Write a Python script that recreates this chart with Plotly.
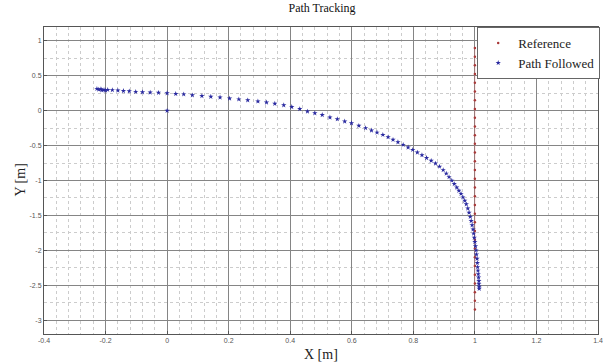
import plotly.graph_objects as go

# ---- data ----
ref_x = [1.0] * 31
ref_y = [0.9, 0.775, 0.65, 0.525, 0.4, 0.275, 0.15, 0.025, -0.1, -0.225, -0.35,
         -0.475, -0.6, -0.725, -0.85, -0.975, -1.1, -1.225, -1.35, -1.475, -1.6,
         -1.725, -1.85, -1.975, -2.1, -2.225, -2.35, -2.475, -2.6, -2.725, -2.85]

path_x = [0.0, -0.228, -0.222, -0.215, -0.212, -0.205, -0.2, -0.193, -0.178, -0.16,
          -0.142, -0.123, -0.102, -0.08, -0.055, -0.028, 0.0, 0.028, 0.054, 0.082,
          0.113, 0.142, 0.172, 0.203, 0.233, 0.262, 0.295, 0.323, 0.35, 0.379,
          0.405, 0.431, 0.456, 0.48, 0.504, 0.529, 0.553, 0.577, 0.599, 0.623,
          0.645, 0.664, 0.682, 0.701, 0.718, 0.734, 0.75, 0.767, 0.783, 0.798,
          0.813, 0.828, 0.843, 0.858, 0.872, 0.885, 0.897, 0.907, 0.916, 0.925,
          0.933, 0.941, 0.948, 0.955, 0.961, 0.967, 0.972, 0.977, 0.981, 0.985,
          0.988, 0.991, 0.994, 0.996, 0.998, 1.0, 1.002, 1.004, 1.005, 1.007,
          1.008, 1.009, 1.01, 1.011, 1.012, 1.013, 1.013, 1.014, 1.014]
path_y = [0.0, 0.315, 0.305, 0.31, 0.295, 0.3, 0.29, 0.3, 0.297, 0.29,
          0.284, 0.28, 0.272, 0.266, 0.262, 0.258, 0.252, 0.242, 0.236, 0.222,
          0.212, 0.202, 0.191, 0.176, 0.164, 0.151, 0.135, 0.119, 0.102, 0.08,
          0.055, 0.025, -0.01, -0.035, -0.06, -0.095, -0.12, -0.153, -0.178, -0.215,
          -0.248, -0.282, -0.312, -0.345, -0.378, -0.415, -0.45, -0.488, -0.525, -0.56,
          -0.598, -0.636, -0.676, -0.716, -0.756, -0.8, -0.85, -0.9, -0.95, -1.0,
          -1.05, -1.1, -1.145, -1.19, -1.24, -1.29, -1.34, -1.4, -1.46, -1.52,
          -1.58, -1.64, -1.7, -1.76, -1.82, -1.88, -1.94, -2.0, -2.06, -2.12,
          -2.18, -2.24, -2.29, -2.34, -2.39, -2.44, -2.48, -2.52, -2.55]

x_ticks = [-0.4, -0.2, 0, 0.2, 0.4, 0.6, 0.8, 1, 1.2, 1.4]
x_labels = ["-0.4", "-0.2", "0", "0.2", "0.4", "0.6", "0.8", "1", "1.2", "1.4"]
y_ticks = [-3, -2.5, -2, -1.5, -1, -0.5, 0, 0.5, 1]
y_labels = ["-3", "-2.5", "-2", "-1.5", "-1", "-0.5", "0", "0.5", "1"]

serif = "Liberation Serif, Times New Roman, serif"

fig = go.Figure()
# faint red reference line behind the dots
fig.add_trace(go.Scatter(x=ref_x, y=ref_y, mode="lines",
                         line=dict(color="rgba(220,90,90,0.35)", width=1),
                         showlegend=False, hoverinfo="skip"))
fig.add_trace(go.Scatter(x=ref_x, y=ref_y, mode="markers", name="Reference",
                         marker=dict(color="#a83838", size=2.5, symbol="circle")))
fig.add_trace(go.Scatter(x=path_x, y=path_y, mode="markers", name="Path Followed",
                         marker=dict(color="#2a2aa0", size=4, symbol="star")))

axis_common = dict(
    showline=True, linecolor="#555555", linewidth=1, mirror=True,
    showgrid=True, gridcolor="#858585", gridwidth=1,
    zeroline=False, automargin=False,
    ticks="inside", ticklen=3, tickcolor="#555555",
    tickfont=dict(family="Arial, Liberation Sans, sans-serif", size=7, color="#555555"),
)

fig.update_xaxes(range=[-0.4, 1.4], tickvals=x_ticks, ticktext=x_labels,
                 minor=dict(dtick=0.04, tick0=-0.4, showgrid=True, gridcolor="#cccccc",
                            griddash="dot", gridwidth=1, ticks=""),
                 **axis_common)
fig.update_yaxes(range=[-3.2, 1.2], tickvals=y_ticks, ticktext=y_labels,
                 minor=dict(dtick=0.25, tick0=0, showgrid=True, gridcolor="#cccccc",
                            griddash="dot", gridwidth=1, ticks=""),
                 **axis_common)

fig.update_layout(
    width=603, height=364,
    margin=dict(l=44, r=3, t=27, b=30),
    paper_bgcolor="white", plot_bgcolor="white",
    title=dict(text="Path Tracking", x=0.534, xanchor="center", y=0.99, yanchor="top",
               font=dict(family=serif, size=12, color="#111111")),
    legend=dict(x=1.004, xanchor="right", y=1, yanchor="top",
                bgcolor="white", bordercolor="#666666", borderwidth=1,
                font=dict(family=serif, size=13, color="#222222"),
                tracegroupgap=0, itemwidth=30),
    showlegend=True,
    annotations=[
        dict(text="X [m]", xref="paper", yref="paper", x=0.5, y=0, yshift=-20,
             xanchor="center", yanchor="middle", showarrow=False,
             font=dict(family=serif, size=14, color="#222222")),
        dict(text="Y [m]", xref="paper", yref="paper", x=0, xshift=-24, y=0.5,
             xanchor="center", yanchor="middle", showarrow=False, textangle=-90,
             font=dict(family=serif, size=14, color="#222222")),
    ],
)

fig.write_html("out.html", config={"displayModeBar": False},
               post_script="document.body.style.margin='0';document.body.style.overflow='hidden';")
